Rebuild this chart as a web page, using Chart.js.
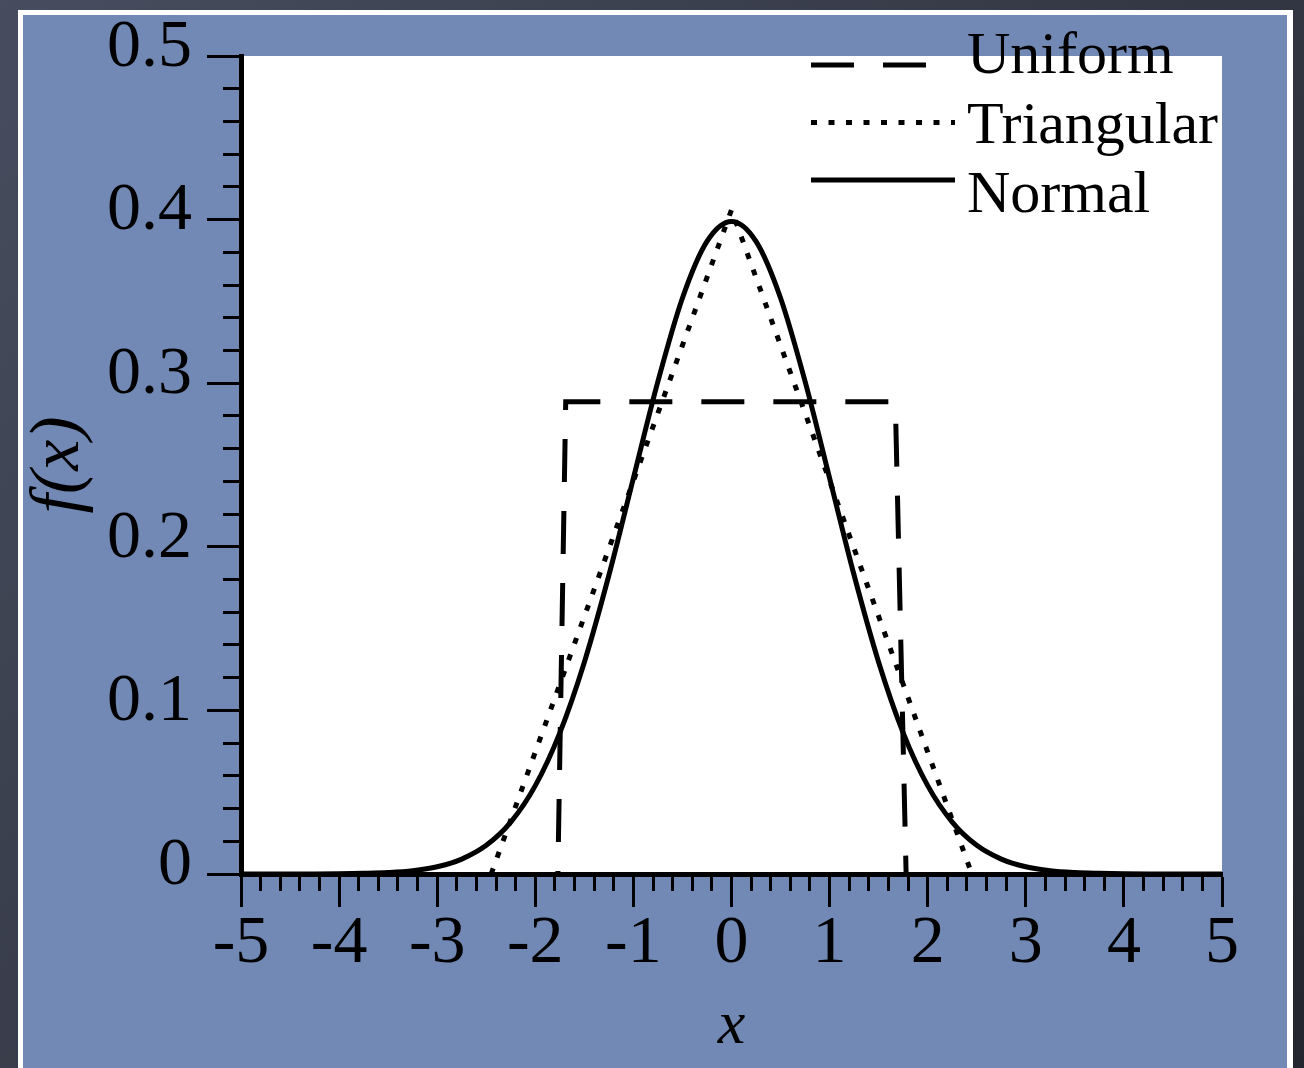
<!DOCTYPE html>
<html>
<head>
<meta charset="utf-8">
<title>f(x)</title>
<script src="https://cdn.jsdelivr.net/npm/chart.js@4.4.1/dist/chart.umd.min.js"></script>
<style>
    html, body { margin: 0; padding: 0; background: #373b46; }
    #wrap { width: 1304px; height: 1068px; }
</style>
</head>
<body>
<div id="wrap"><canvas id="myChart"></canvas></div>
<script>
// Values
const seriesNames = ['Uniform', 'Triangular', 'Normal'];

const uniformX = [-1.77, -1.69, 1.67, 1.78];
const uniformY = [0, 0.2887, 0.2887, 0];

const triangularX = [-2.45, 0, 2.45];
const triangularY = [0, 0.406, 0];

const normalX = [-5, -4.75, -4.5, -4.25, -4, -3.75, -3.5, -3.25, -3, -2.75, -2.5, -2.25, -2, -1.75, -1.5, -1.25, -1, -0.75, -0.5, -0.25,
    0, 0.25, 0.5, 0.75, 1, 1.25, 1.5, 1.75, 2, 2.25, 2.5, 2.75, 3, 3.25, 3.5, 3.75, 4, 4.25, 4.5, 4.75, 5];
const normalY = [0, 0, 0, 0, 0.0001, 0.0004, 0.0009, 0.0020, 0.0044, 0.0091, 0.0175, 0.0317, 0.0540, 0.0863, 0.1295, 0.1826, 0.2420, 0.3011, 0.3521, 0.3867,
    0.3989, 0.3867, 0.3521, 0.3011, 0.2420, 0.1826, 0.1295, 0.0863, 0.0540, 0.0317, 0.0175, 0.0091, 0.0044, 0.0020, 0.0009, 0.0004, 0.0001, 0, 0, 0, 0];

// Labelled (major) ticks
const xTickLabels = [-5, -4, -3, -2, -1, 0, 1, 2, 3, 4, 5];
const yTickLabels = [0, 0.1, 0.2, 0.3, 0.4, 0.5];

const serif = "'Liberation Serif', 'Times New Roman', Times, serif";

const toPoints = (xs, ys) => xs.map((x, i) => ({ x: x, y: ys[i] }));
const isMajor = (list, v) => list.some(m => Math.abs(m - v) < 1e-6);

// Slide background, white frame and white plot area
const slideBackground = {
    id: 'slideBackground',
    beforeDraw(chart) {
        const { ctx, width, height, chartArea } = chart;
        ctx.save();
        const g = ctx.createLinearGradient(0, 0, width, height);
        g.addColorStop(0, '#474d5e');
        g.addColorStop(1, '#23262e');
        ctx.fillStyle = g;
        ctx.fillRect(0, 0, width, height);
        ctx.fillStyle = '#ffffff';
        ctx.fillRect(18, 10, 1275, height);
        ctx.fillStyle = '#7189b4';
        ctx.fillRect(23, 15, 1264, height);
        ctx.fillStyle = '#ffffff';
        ctx.fillRect(chartArea.left, chartArea.top, chartArea.right - chartArea.left, chartArea.bottom - chartArea.top);
        ctx.restore();
    }
};

// Legend with line samples, drawn inside the top right of the plot
const lineLegend = {
    id: 'lineLegend',
    afterDraw(chart) {
        const { ctx } = chart;
        ctx.save();
        chart.data.datasets.forEach((ds, i) => {
            const ly = 65 + 57.5 * i;
            ctx.beginPath();
            ctx.setLineDash(ds.borderDash || []);
            ctx.lineDashOffset = 0;
            ctx.lineWidth = ds.borderWidth;
            ctx.strokeStyle = ds.borderColor;
            ctx.lineCap = 'butt';
            ctx.moveTo(811, ly);
            ctx.lineTo(955, ly);
            ctx.stroke();
            ctx.setLineDash([]);
            ctx.fillStyle = '#000';
            ctx.font = '60px ' + serif;
            ctx.textAlign = 'left';
            ctx.textBaseline = 'alphabetic';
            ctx.fillText(ds.label, 967, 73 + 69.5 * i);
        });
        ctx.restore();
    }
};

const ctx = document.getElementById('myChart').getContext('2d');

const chart = new Chart(ctx, {
    type: 'line',
    data: {
        datasets: [
            {
                label: seriesNames[0],
                data: toPoints(uniformX, uniformY),
                borderColor: '#000',
                borderWidth: 5,
                borderDash: [43, 29],
                borderDashOffset: 40,
                pointRadius: 0,
                tension: 0,
                fill: false
            },
            {
                label: seriesNames[1],
                data: toPoints(triangularX, triangularY),
                borderColor: '#000',
                borderWidth: 5,
                borderDash: [6, 11.5],
                pointRadius: 0,
                tension: 0,
                fill: false
            },
            {
                label: seriesNames[2],
                data: toPoints(normalX, normalY),
                borderColor: '#000',
                borderWidth: 5,
                pointRadius: 0,
                cubicInterpolationMode: 'monotone',
                fill: false
            }
        ]
    },
    options: {
        responsive: true,
        maintainAspectRatio: false,
        devicePixelRatio: 1,
        animation: false,
        layout: {
            padding: { top: 56, right: 82, left: 0, bottom: 0 }
        },
        plugins: {
            legend: { display: false },
            tooltip: { enabled: false }
        },
        scales: {
            x: {
                type: 'linear',
                min: -5,
                max: 5,
                afterFit: (scale) => { scale.height = 194; },
                border: { display: true, color: '#000', width: 5 },
                grid: {
                    drawOnChartArea: false,
                    tickLength: 33,
                    tickWidth: 3,
                    tickColor: '#000',
                    tickBorderDash: (c) => (c.tick && !isMajor(xTickLabels, c.tick.value)) ? [14, 100] : []
                },
                ticks: {
                    stepSize: 0.2,
                    autoSkip: false,
                    maxRotation: 0,
                    minRotation: 0,
                    padding: 3,
                    color: '#000',
                    font: { family: serif, size: 68, lineHeight: 1 },
                    callback: (v) => isMajor(xTickLabels, v) ? String(Math.round(v)) : ''
                },
                title: {
                    display: true,
                    text: 'x',
                    color: '#000',
                    font: { family: serif, size: 62, style: 'italic', lineHeight: 1 },
                    padding: { top: 0, bottom: 10 }
                }
            },
            y: {
                min: 0,
                max: 0.5,
                afterFit: (scale) => { scale.width = 241; },
                border: { display: true, color: '#000', width: 5 },
                grid: {
                    drawOnChartArea: false,
                    tickLength: 34,
                    tickWidth: 3,
                    tickColor: '#000',
                    tickBorderDash: (c) => (c.tick && !isMajor(yTickLabels, c.tick.value)) ? [0, 16, 40, 0] : []
                },
                ticks: {
                    stepSize: 0.02,
                    autoSkip: false,
                    padding: 15,
                    labelOffset: -8,
                    color: '#000',
                    font: { family: serif, size: 68, lineHeight: 1 },
                    callback: (v) => isMajor(yTickLabels, v) ? (Math.abs(v) < 1e-9 ? '0' : v.toFixed(1)) : ''
                },
                title: {
                    display: true,
                    text: 'f(x)',
                    color: '#000',
                    font: { family: serif, size: 70, style: 'italic', lineHeight: 1 },
                    padding: { top: 25, bottom: 0 }
                }
            }
        }
    },
    plugins: [slideBackground, lineLegend]
});
</script>
</body>
</html>
